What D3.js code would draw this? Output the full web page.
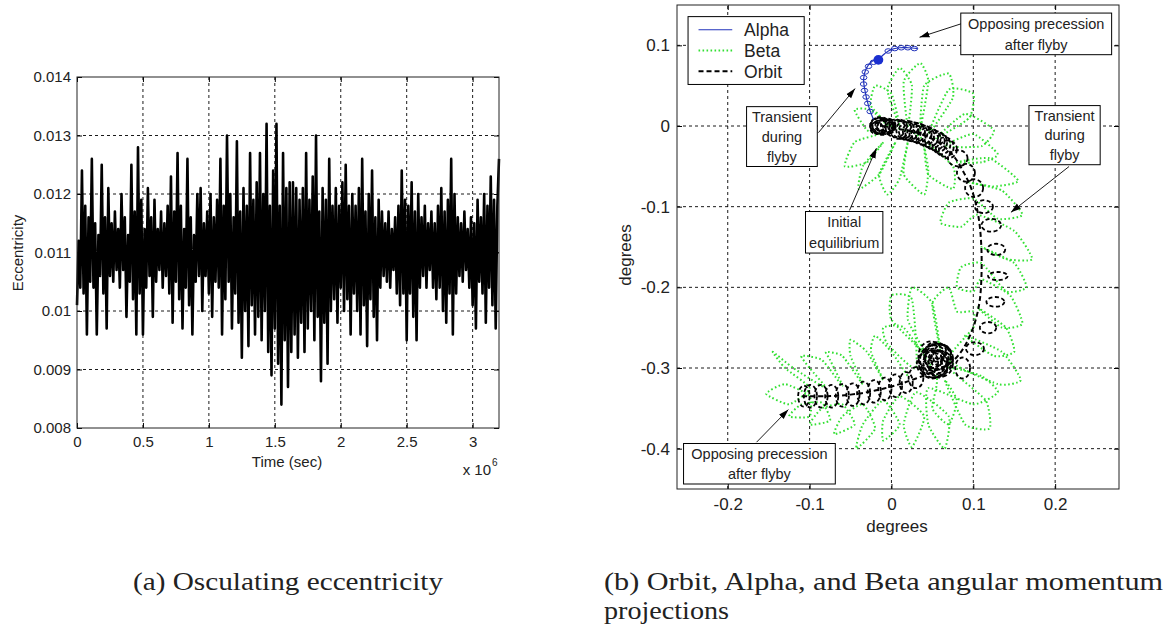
<!DOCTYPE html>
<html>
<head>
<meta charset="utf-8">
<script src="https://cdn.jsdelivr.net/npm/d3@7"></script>
<style>
  body { margin: 0; background: #fff; overflow: hidden; }
  text { font-family: "Liberation Sans", Arial, sans-serif; fill: #222; }
</style>
</head>
<body>
<div id="fig"></div>
<script>
// ---------------- data: panel (a) ----------------
var eccStep = 12500; // seconds between samples
var eccValues = [
  0.0101,0.0112,0.0104,0.0124,0.0103,0.0118,0.0096,0.0116,0.0105,0.0126,0.0104,0.0115,0.0096,0.0113,0.0106,0.0125,
  0.0103,0.0116,0.0097,0.0121,0.0106,0.0115,0.0105,0.0117,0.0107,0.0114,0.0104,0.0120,0.0107,0.0116,0.0099,0.0113,
  0.0105,0.0125,0.0102,0.0117,0.0096,0.0128,0.0103,0.0119,0.0096,0.0114,0.0104,0.0121,0.0106,0.0116,0.0099,0.0119,
  0.0105,0.0114,0.0107,0.0117,0.0104,0.0115,0.0106,0.0118,0.0103,0.0123,0.0098,0.0117,0.0105,0.0127,0.0102,0.0118,
  0.0097,0.0114,0.0104,0.0126,0.0101,0.0116,0.0096,0.0113,0.0105,0.0120,0.0106,0.0121,0.0100,0.0115,0.0106,0.0117,
  0.0103,0.0120,0.0099,0.0116,0.0105,0.0119,0.0104,0.0126,0.0096,0.0118,0.0102,0.0130,0.0105,0.0120,0.0097,0.0116,
  0.0103,0.0129,0.0098,0.0117,0.0092,0.0121,0.0100,0.0118,0.0094,0.0127,0.0101,0.0119,0.0096,0.0122,0.0099,0.0127,
  0.0095,0.0120,0.0100,0.0132,0.0093,0.0118,0.0089,0.0124,0.0097,0.0132,0.0091,0.0118,0.0084,0.0127,0.0095,0.0121,
  0.0087,0.0122,0.0093,0.0122,0.0096,0.0121,0.0092,0.0119,0.0098,0.0121,0.0093,0.0127,0.0097,0.0119,0.0100,0.0123,
  0.0095,0.0130,0.0099,0.0117,0.0088,0.0121,0.0098,0.0119,0.0091,0.0126,0.0100,0.0118,0.0102,0.0121,0.0098,0.0118,
  0.0104,0.0122,0.0100,0.0125,0.0102,0.0118,0.0096,0.0120,0.0103,0.0118,0.0100,0.0121,0.0096,0.0126,0.0101,0.0117,
  0.0094,0.0120,0.0102,0.0124,0.0099,0.0116,0.0095,0.0119,0.0104,0.0117,0.0106,0.0115,0.0105,0.0117,0.0104,0.0114,
  0.0107,0.0116,0.0103,0.0118,0.0101,0.0124,0.0103,0.0119,0.0095,0.0118,0.0103,0.0122,0.0099,0.0117,0.0095,0.0120,
  0.0104,0.0116,0.0106,0.0118,0.0104,0.0115,0.0107,0.0117,0.0104,0.0115,0.0102,0.0118,0.0104,0.0121,0.0100,0.0117,
  0.0098,0.0119,0.0103,0.0126,0.0096,0.0120,0.0103,0.0116,0.0106,0.0115,0.0105,0.0117,0.0107,0.0114,0.0104,0.0116,
  0.0101,0.0115,0.0097,0.0119,0.0105,0.0116,0.0103,0.0120,0.0098,0.0118,0.0104,0.0123,0.0101,0.0119,0.0097,0.0118,
  0.0126
];
var timeTicks = [0, 0.5e6, 1e6, 1.5e6, 2e6, 2.5e6, 3e6];
var timeTickLabels = ["0", "0.5", "1", "1.5", "2", "2.5", "3"];
var eccTicks = [0.008, 0.009, 0.010, 0.011, 0.012, 0.013, 0.014];
var eccTickLabels = ["0.008", "0.009", "0.01", "0.011", "0.012", "0.013", "0.014"];

// ---------------- data: panel (b) ----------------
var degTicksX = [-0.2, -0.1, 0, 0.1, 0.2];
var degTicksY = [-0.4, -0.3, -0.2, -0.1, 0, 0.1];

// orbit centre line and the loops it traces (cx, cy, rx, ry)
var orbitSpine = [[-0.01,0.0],[0.01,-0.004],[0.03,-0.008],[0.05,-0.016],[0.065,-0.026],[0.078,-0.04],
  [0.088,-0.057],[0.097,-0.076],[0.104,-0.1],[0.108,-0.125],[0.11,-0.155],[0.11,-0.185],[0.108,-0.215],
  [0.103,-0.24],[0.095,-0.262],[0.085,-0.28],[0.072,-0.294],[0.06,-0.3],[0.045,-0.307],[0.03,-0.313],
  [0.01,-0.32],[-0.02,-0.328],[-0.05,-0.333],[-0.08,-0.335],[-0.11,-0.335]];
var orbitLoops = [
  [-0.012,0.0,0.014,0.010],[-0.010,-0.001,0.013,0.009],[-0.014,0.001,0.012,0.010],[-0.008,0.0,0.012,0.008],
  [-0.011,-0.002,0.014,0.009],[-0.006,-0.001,0.011,0.009],[-0.016,0.002,0.009,0.008],
  [-0.010,0.0,0.008,0.006],[-0.004,0.001,0.009,0.008],[-0.018,-0.003,0.008,0.007],
  [0.005,-0.003,0.012,0.011],[0.009,-0.004,0.011,0.012],[0.013,-0.005,0.012,0.011],[0.017,-0.005,0.011,0.012],
  [0.021,-0.006,0.012,0.012],[0.025,-0.007,0.011,0.012],[0.029,-0.008,0.012,0.012],[0.033,-0.009,0.011,0.012],
  [0.037,-0.011,0.012,0.012],[0.041,-0.012,0.011,0.012],[0.045,-0.014,0.012,0.012],[0.049,-0.016,0.011,0.012],
  [0.053,-0.018,0.012,0.012],[0.057,-0.020,0.011,0.012],[0.061,-0.023,0.011,0.012],[0.065,-0.026,0.011,0.012],
  [0.069,-0.029,0.011,0.011],
  [0.081,-0.040,0.012,0.010],[0.091,-0.058,0.011,0.011],[0.101,-0.077,0.011,0.011],[0.113,-0.100,0.011,0.008],
  [0.122,-0.123,0.012,0.008],[0.128,-0.153,0.011,0.007],[0.130,-0.186,0.012,0.005],[0.127,-0.218,0.011,0.006],
  [0.118,-0.250,0.010,0.007],[0.102,-0.276,0.011,0.008],[0.087,-0.300,0.009,0.013],
  [0.055,-0.290,0.020,0.020],[0.052,-0.292,0.018,0.020],[0.058,-0.288,0.017,0.018],[0.050,-0.295,0.019,0.017],
  [0.056,-0.286,0.016,0.016],[0.053,-0.293,0.014,0.015],[0.057,-0.290,0.012,0.012],[0.051,-0.288,0.010,0.012],
  [0.048,-0.285,0.015,0.018],[0.060,-0.295,0.015,0.016],[0.054,-0.280,0.013,0.012],[0.050,-0.300,0.013,0.013],
  [0.062,-0.285,0.011,0.014],[0.045,-0.293,0.012,0.014],[0.058,-0.300,0.010,0.012],[0.055,-0.290,0.007,0.008],
  [0.030,-0.312,0.009,0.013],[0.018,-0.318,0.008,0.013],[0.005,-0.322,0.008,0.014],[-0.008,-0.326,0.008,0.014],
  [-0.021,-0.329,0.008,0.014],[-0.034,-0.331,0.008,0.014],[-0.047,-0.333,0.008,0.014],[-0.060,-0.334,0.008,0.014],
  [-0.073,-0.335,0.008,0.014],[-0.086,-0.335,0.008,0.014],[-0.099,-0.335,0.008,0.014],[-0.107,-0.335,0.007,0.013]
];

// alpha centre line, its small coils (cx, cy, r) and the knot where it lingers
var alphaSpine = [[-0.022,0.008],[-0.028,0.025],[-0.032,0.042],[-0.034,0.058],[-0.031,0.071],[-0.024,0.08],
  [-0.016,0.083],[-0.008,0.09],[0.0,0.095],[0.01,0.097],[0.02,0.097],[0.032,0.096]];
var alphaCoils = [[-0.026,0.018,0.004],[-0.029,0.028,0.004],[-0.031,0.036,0.004],[-0.033,0.044,0.004],
  [-0.034,0.052,0.004],[-0.034,0.060,0.004],[-0.032,0.067,0.004],[-0.028,0.074,0.004],[-0.022,0.079,0.004],
  [-0.004,0.093,0.004],[0.004,0.096,0.004],[0.012,0.097,0.004],[0.020,0.097,0.004],[0.028,0.096,0.004]];
var alphaKnot = [[-0.016, 0.082, 0.006]];

// beta trajectory (dotted petals): inner point, side, tip, side ...
var betaPath = [
  [-0.005,0.0],[-0.025,0.02],[-0.045,0.02],[-0.03,-0.005],
  [-0.015,-0.01],[-0.045,-0.02],[-0.057,-0.05],[-0.03,-0.045],
  [-0.01,-0.02],[-0.035,-0.05],[-0.04,-0.078],[-0.015,-0.06],
  [0.005,-0.02],[-0.015,-0.06],[-0.005,-0.085],[0.01,-0.065],
  [0.02,-0.02],[0.015,-0.06],[0.04,-0.085],[0.045,-0.055],
  [0.04,-0.025],[0.045,-0.06],[0.075,-0.078],[0.075,-0.05],
  [0.03,-0.01],[0.0,0.0],[-0.025,0.025],[-0.02,0.05],[0.0,0.04],
  [0.01,0.0],[-0.005,0.045],[0.01,0.072],[0.025,0.05],
  [0.02,0.0],[0.015,0.055],[0.035,0.078],[0.045,0.055],
  [0.035,-0.005],[0.04,0.05],[0.07,0.065],[0.075,0.035],
  [0.045,-0.01],[0.07,0.045],[0.1,0.04],[0.095,0.01],
  [0.055,-0.015],[0.09,0.015],[0.125,-0.005],[0.11,-0.025],
  [0.065,-0.025],[0.1,-0.01],[0.13,-0.035],[0.11,-0.045],
  [0.08,-0.045],[0.12,-0.04],[0.155,-0.068],[0.125,-0.075],
  [0.095,-0.07],[0.135,-0.08],[0.16,-0.11],[0.13,-0.115],
  [0.1,-0.09],[0.07,-0.095],[0.06,-0.12],[0.085,-0.125],
  [0.105,-0.11],[0.15,-0.13],[0.172,-0.165],[0.14,-0.165],
  [0.11,-0.15],[0.15,-0.17],[0.165,-0.2],[0.14,-0.205],
  [0.11,-0.17],[0.085,-0.175],[0.08,-0.2],[0.1,-0.205],
  [0.11,-0.19],[0.145,-0.21],[0.16,-0.245],[0.135,-0.25],
  [0.105,-0.225],[0.14,-0.25],[0.15,-0.28],[0.125,-0.285],
  [0.09,-0.26],[0.135,-0.28],[0.158,-0.315],[0.13,-0.32],
  [0.07,-0.29],[0.1,-0.25],[0.1,-0.23],[0.08,-0.23],[0.07,-0.2],[0.05,-0.22],
  [0.06,-0.28],[0.05,-0.22],[0.025,-0.2],[0.02,-0.24],
  [0.04,-0.28],[0.0,-0.24],[0.0,-0.21],[0.025,-0.215],
  [0.03,-0.3],[-0.005,-0.27],[-0.01,-0.25],[0.015,-0.25],
  [0.055,-0.31],[0.05,-0.35],[0.07,-0.37],[0.08,-0.34],
  [0.065,-0.315],[0.09,-0.37],[0.12,-0.375],[0.115,-0.34],
  [0.07,-0.3],[0.11,-0.31],[0.13,-0.33],[0.1,-0.345],
  [0.045,-0.325],[0.045,-0.37],[0.065,-0.4],[0.07,-0.36],
  [0.03,-0.33],[0.015,-0.37],[0.025,-0.398],[0.04,-0.36],
  [0.01,-0.335],[-0.01,-0.365],[-0.01,-0.39],[0.01,-0.37],
  [-0.01,-0.34],[-0.035,-0.37],[-0.043,-0.4],[-0.02,-0.375],
  [-0.035,-0.345],[-0.06,-0.36],[-0.07,-0.382],[-0.045,-0.37],
  [-0.06,-0.345],[-0.085,-0.35],[-0.1,-0.37],[-0.075,-0.365],
  [-0.085,-0.343],[-0.11,-0.345],[-0.125,-0.36],[-0.1,-0.36],
  [-0.1,-0.335],[-0.13,-0.32],[-0.153,-0.332],[-0.125,-0.345],
  [-0.1,-0.325],[-0.13,-0.3],[-0.145,-0.28],[-0.12,-0.3],
  [-0.08,-0.325],[-0.1,-0.3],[-0.11,-0.285],[-0.085,-0.29],
  [-0.06,-0.322],[-0.075,-0.29],[-0.08,-0.28],[-0.06,-0.285],
  [-0.035,-0.32],[-0.05,-0.285],[-0.05,-0.265],[-0.03,-0.28],
  [-0.01,-0.315],[-0.025,-0.28],[-0.02,-0.26],[0.0,-0.28],
  [0.02,-0.31]
];

var legendNames = ["Alpha", "Beta", "Orbit"];

// text callouts: box corners [x0, y0, x1, y1] and arrow [from, to], in plot units
var notes = [
  { lines: ["Opposing precession", "after flyby"], box: [0.0847, 0.140, 0.269, 0.0884], from: [0.086, 0.127], to: [0.0343, 0.110] },
  { lines: ["Transient", "during", "flyby"], box: [-0.177, 0.024, -0.0906, -0.0502], from: [-0.0892, -0.0082], to: [-0.0444, 0.0464] },
  { lines: ["Transient", "during", "flyby"], box: [0.168, 0.0253, 0.255, -0.048], from: [0.217, -0.0502], to: [0.146, -0.107] },
  { lines: ["Initial", "equilibrium"], box: [-0.105, -0.106, -0.0105, -0.1575], from: [-0.0513, -0.1047], to: [-0.0183, -0.0275] },
  { lines: ["Opposing precession", "after flyby"], box: [-0.254, -0.3936, -0.0686, -0.4438], from: [-0.1648, -0.392], to: [-0.1259, -0.3515] }
];

// ---------------- drawing ----------------
var svg = d3.select("#fig").append("svg")
    .attr("width", 1168)
    .attr("height", 637)
    .style("background", "#fff");

svg.append("defs").append("marker")
    .attr("id", "arrow")
    .attr("viewBox", "0 0 10 10")
    .attr("refX", 10).attr("refY", 5)
    .attr("markerWidth", 10).attr("markerHeight", 10)
    .attr("markerUnits", "userSpaceOnUse")
    .attr("orient", "auto")
    .append("path")
    .attr("d", "M0,1.8 L10,5 L0,8.2 Z")
    .attr("fill", "#000");

function grid(g, x, y, xs, ys) {
    g.selectAll(".vg").data(xs).enter().append("line")
        .attr("x1", function (d) { return x(d); }).attr("x2", function (d) { return x(d); })
        .attr("y1", y.range()[0]).attr("y2", y.range()[1])
        .attr("stroke", "#000").attr("stroke-width", 0.9).attr("stroke-dasharray", "3,3");
    g.selectAll(".hg").data(ys).enter().append("line")
        .attr("y1", function (d) { return y(d); }).attr("y2", function (d) { return y(d); })
        .attr("x1", x.range()[0]).attr("x2", x.range()[1])
        .attr("stroke", "#000").attr("stroke-width", 0.9).attr("stroke-dasharray", "3,3");
}

function frame(g, x, y, xt, yt, xl, yl, fs, pad) {
    var x0 = x.range()[0], x1 = x.range()[1], y0 = y.range()[0], y1 = y.range()[1];
    var bottom = g.append("g").attr("transform", "translate(0," + y0 + ")")
        .call(d3.axisBottom(x).tickValues(xt).tickSizeInner(-5).tickSizeOuter(0).tickPadding(pad[0])
            .tickFormat(function (d, i) { return xl[i]; }));
    var left = g.append("g").attr("transform", "translate(" + x0 + ",0)")
        .call(d3.axisLeft(y).tickValues(yt).tickSizeInner(-5).tickSizeOuter(0).tickPadding(pad[1])
            .tickFormat(function (d, i) { return yl[i]; }));
    var top = g.append("g").attr("transform", "translate(0," + y1 + ")")
        .call(d3.axisTop(x).tickValues(xt).tickSizeInner(-5).tickSizeOuter(0).tickFormat(""));
    var right = g.append("g").attr("transform", "translate(" + x1 + ",0)")
        .call(d3.axisRight(y).tickValues(yt).tickSizeInner(-5).tickSizeOuter(0).tickFormat(""));
    [bottom, left, top, right].forEach(function (a) {
        a.select(".domain").remove();
        a.selectAll("line").attr("stroke", "#000");
        a.selectAll("text").style("font-size", fs + "px").style("font-family", "'Liberation Sans', Arial, sans-serif").attr("fill", "#222");
    });
    g.append("rect")
        .attr("x", x0).attr("y", y1).attr("width", x1 - x0).attr("height", y0 - y1)
        .attr("fill", "none").attr("stroke", "#222").attr("stroke-width", 1);
}

// ---- panel (a): osculating eccentricity ----
var xA = d3.scaleLinear().domain([0, 3.2e6]).range([77, 499]);
var yA = d3.scaleLinear().domain([0.008, 0.014]).range([428, 77]);
var gA = svg.append("g");

grid(gA, xA, yA, timeTicks.slice(1), eccTicks.slice(1, -1));

gA.append("path")
    .datum(eccValues)
    .attr("fill", "none")
    .attr("stroke", "#000")
    .attr("stroke-width", 2.6)
    .attr("stroke-linejoin", "round")
    .attr("d", d3.line()
        .x(function (d, i) { return xA(i * eccStep); })
        .y(function (d) { return yA(d); }));

frame(gA, xA, yA, timeTicks, eccTicks, timeTickLabels, eccTickLabels, 15, [8, 6]);

gA.append("text")
    .attr("x", 287).attr("y", 467)
    .style("text-anchor", "middle").style("font-size", "15px")
    .text("Time (sec)");

gA.append("text")
    .attr("transform", "translate(23,253) rotate(-90)")
    .style("text-anchor", "middle").style("font-size", "15px")
    .text("Eccentricity");

gA.append("text")
    .attr("x", 491).attr("y", 475)
    .style("text-anchor", "end").style("font-size", "15px")
    .text("x 10");
gA.append("text")
    .attr("x", 492).attr("y", 466)
    .style("font-size", "10px")
    .text("6");

// ---- panel (b): angular momentum projections ----
var xB = d3.scaleLinear().domain([-0.262, 0.278]).range([677, 1119]);
var yB = d3.scaleLinear().domain([-0.45, 0.15]).range([489, 5]);
var gB = svg.append("g");

grid(gB, xB, yB, degTicksX, degTicksY);

var clip = svg.select("defs").append("clipPath").attr("id", "clipB");
clip.append("rect").attr("x", 677).attr("y", 5).attr("width", 442).attr("height", 484);
var plotB = gB.append("g").attr("clip-path", "url(#clipB)");

var lineB = d3.line()
    .x(function (d) { return xB(d[0]); })
    .y(function (d) { return yB(d[1]); });

// beta
plotB.append("path")
    .datum(betaPath)
    .attr("fill", "none")
    .attr("stroke", "#33e033")
    .attr("stroke-width", 2)
    .attr("stroke-dasharray", "1.6,2.4")
    .attr("d", lineB.curve(d3.curveCardinal.tension(0.45)));

// orbit
plotB.append("path")
    .datum(orbitSpine)
    .attr("fill", "none")
    .attr("stroke", "#000")
    .attr("stroke-width", 2)
    .attr("stroke-dasharray", "5,3")
    .attr("d", lineB.curve(d3.curveCatmullRom.alpha(0.5)));

plotB.selectAll(".loop").data(orbitLoops).enter().append("ellipse")
    .attr("cx", function (d) { return xB(d[0]); })
    .attr("cy", function (d) { return yB(d[1]); })
    .attr("rx", function (d) { return xB(d[0] + d[2]) - xB(d[0]); })
    .attr("ry", function (d) { return yB(d[1]) - yB(d[1] + d[3]); })
    .attr("fill", "none")
    .attr("stroke", "#000")
    .attr("stroke-width", 1.8)
    .attr("stroke-dasharray", "4,2.5");

// alpha
plotB.append("path")
    .datum(alphaSpine)
    .attr("fill", "none")
    .attr("stroke", "#2233bb")
    .attr("stroke-width", 1.2)
    .attr("d", lineB.curve(d3.curveCatmullRom.alpha(0.5)));

plotB.selectAll(".coil").data(alphaCoils).enter().append("ellipse")
    .attr("cx", function (d) { return xB(d[0]); })
    .attr("cy", function (d) { return yB(d[1]); })
    .attr("rx", function (d) { return xB(d[0] + d[2]) - xB(d[0]); })
    .attr("ry", function (d) { return 0.7 * (yB(d[1]) - yB(d[1] + d[2])); })
    .attr("fill", "none")
    .attr("stroke", "#2233bb")
    .attr("stroke-width", 1);

plotB.selectAll(".knot").data(alphaKnot).enter().append("circle")
    .attr("cx", function (d) { return xB(d[0]); })
    .attr("cy", function (d) { return yB(d[1]); })
    .attr("r", function (d) { return xB(d[0] + d[2]) - xB(d[0]); })
    .attr("fill", "#1a2fd0");

frame(gB, xB, yB, degTicksX, degTicksY, degTicksX.map(String), degTicksY.map(String), 17, [9, 7]);

gB.append("text")
    .attr("x", 897).attr("y", 532)
    .style("text-anchor", "middle").style("font-size", "17px")
    .text("degrees");

gB.append("text")
    .attr("transform", "translate(631,255) rotate(-90)")
    .style("text-anchor", "middle").style("font-size", "17px")
    .text("degrees");

// legend
var lg = gB.append("g");
lg.append("rect")
    .attr("x", xB(-0.2485)).attr("y", yB(0.1356))
    .attr("width", xB(-0.1066) - xB(-0.2485)).attr("height", yB(0.0515) - yB(0.1356))
    .attr("fill", "#fff").attr("stroke", "#000").attr("stroke-width", 1);
var legendY = [0.1193, 0.0936, 0.0678];
var legendStyle = [
    { c: "#2233bb", w: 1.2, dash: null },
    { c: "#33e033", w: 2, dash: "1.6,2.4" },
    { c: "#000", w: 2, dash: "5,3" }
];
legendNames.forEach(function (name, i) {
    lg.append("line")
        .attr("x1", xB(-0.2357)).attr("x2", xB(-0.1945))
        .attr("y1", yB(legendY[i])).attr("y2", yB(legendY[i]))
        .attr("stroke", legendStyle[i].c).attr("stroke-width", legendStyle[i].w)
        .attr("stroke-dasharray", legendStyle[i].dash);
    lg.append("text")
        .attr("x", xB(-0.18)).attr("y", yB(legendY[i]))
        .attr("dy", "0.36em")
        .style("font-size", "17.5px")
        .text(name);
});

// callouts
notes.forEach(function (n) {
    var g = gB.append("g");
    g.append("line")
        .attr("x1", xB(n.from[0])).attr("y1", yB(n.from[1]))
        .attr("x2", xB(n.to[0])).attr("y2", yB(n.to[1]))
        .attr("stroke", "#000").attr("stroke-width", 0.9)
        .attr("marker-end", "url(#arrow)");
    var bx0 = xB(n.box[0]), by0 = yB(n.box[1]), bx1 = xB(n.box[2]), by1 = yB(n.box[3]);
    g.append("rect")
        .attr("x", bx0).attr("y", by0).attr("width", bx1 - bx0).attr("height", by1 - by0)
        .attr("fill", "#fff").attr("stroke", "#000").attr("stroke-width", 1);
    var lh = (by1 - by0) / n.lines.length;
    n.lines.forEach(function (t, i) {
        g.append("text")
            .attr("x", (bx0 + bx1) / 2)
            .attr("y", by0 + lh * (i + 0.5))
            .attr("dy", "0.36em")
            .style("text-anchor", "middle")
            .style("font-size", "14.5px")
            .text(t);
    });
});

// captions
var cap = svg.append("g");
cap.append("text").attr("x", 133).attr("y", 590)
    .attr("textLength", 310).attr("lengthAdjust", "spacingAndGlyphs")
    .style("font-size", "25px").style("font-family", "'Liberation Serif', serif").attr("fill", "#000")
    .text("(a) Osculating eccentricity");
cap.append("text").attr("x", 604).attr("y", 590)
    .attr("textLength", 559).attr("lengthAdjust", "spacingAndGlyphs")
    .style("font-size", "25px").style("font-family", "'Liberation Serif', serif").attr("fill", "#000")
    .text("(b) Orbit, Alpha, and Beta angular momentum");
cap.append("text").attr("x", 604).attr("y", 619)
    .attr("textLength", 125).attr("lengthAdjust", "spacingAndGlyphs")
    .style("font-size", "25px").style("font-family", "'Liberation Serif', serif").attr("fill", "#000")
    .text("projections");
</script>
</body>
</html>
